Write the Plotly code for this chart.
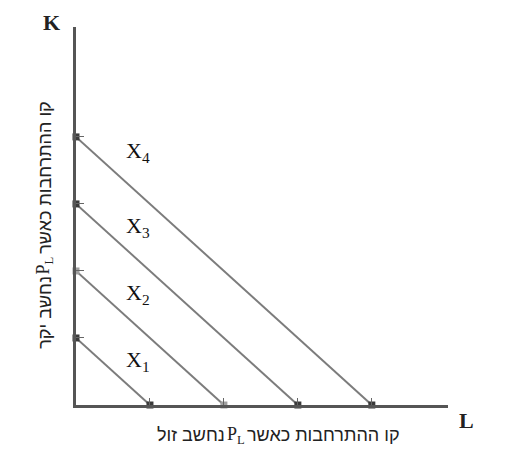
import plotly.graph_objects as go

# Isoquants: intercept on the K axis and on the L axis
line_names = ['X<sub>1</sub>', 'X<sub>2</sub>', 'X<sub>3</sub>', 'X<sub>4</sub>']
k_intercepts = [1, 2, 3, 4]
l_intercepts = [1, 2, 3, 4]
k_end_colors = ['#3a3a3a', '#a0a0a0', '#3a3a3a', '#3a3a3a']
l_end_colors = ['#3a3a3a', '#a0a0a0', '#3a3a3a', '#3a3a3a']

# axis titles, split round P_L so the right-to-left order survives
y_title_start = 'קו ההתרחבות כאשר'
y_title_end = 'נחשב יקר'
x_title_start = 'קו ההתרחבות כאשר'
x_title_end = 'נחשב זול'
price_label = 'P<sub>L</sub>'

hebrew_font = dict(family='Liberation Sans', size=18, color='#222222')
serif_font = dict(family='Liberation Serif', size=18, color='#222222')
label_nudge = [0, 0, 0, 8]  # px, the top label sits a little higher

fig = go.Figure()

for k0, l0 in zip(k_intercepts, l_intercepts):
    fig.add_trace(go.Scatter(
        x=[0, l0], y=[k0, 0],
        mode='lines',
        line=dict(color='#7c7c7c', width=2),
        showlegend=False, hoverinfo='skip',
    ))

# small square end markers sitting on the axes
fig.add_trace(go.Scatter(
    x=[0] * len(k_intercepts), y=k_intercepts, mode='markers',
    marker=dict(symbol='square', size=7, color=k_end_colors),
    showlegend=False, hoverinfo='skip', cliponaxis=False,
))
fig.add_trace(go.Scatter(
    x=l_intercepts, y=[0] * len(l_intercepts), mode='markers',
    marker=dict(symbol='square', size=7, color=l_end_colors),
    showlegend=False, hoverinfo='skip', cliponaxis=False,
))

for name, k0, nudge in zip(line_names, k_intercepts, label_nudge):
    fig.add_annotation(
        x=0.84, y=k0 - 0.35, text=name, yshift=nudge,
        showarrow=False, xanchor='center', yanchor='middle',
        font=dict(family='Liberation Serif', size=22, color='#111111'),
    )

# axis letters
fig.add_annotation(x=-0.065, y=1.0, xref='paper', yref='paper', text='<b>K</b>',
                   showarrow=False, xanchor='center', yanchor='middle', yshift=5,
                   font=dict(family='Liberation Serif', size=22, color='#222222'))
fig.add_annotation(x=1.051, y=-0.042, xref='paper', yref='paper', text='<b>L</b>',
                   showarrow=False, xanchor='center', yanchor='middle',
                   font=dict(family='Liberation Serif', size=22, color='#222222'))

# x-axis title
fig.add_annotation(x=0.43, y=-0.082, xref='paper', yref='paper', text=price_label,
                   showarrow=False, xanchor='center', yanchor='middle', font=serif_font)
fig.add_annotation(x=0.43, y=-0.08, xref='paper', yref='paper', text=x_title_start,
                   showarrow=False, xanchor='left', yanchor='middle', xshift=9,
                   font=hebrew_font)
fig.add_annotation(x=0.43, y=-0.08, xref='paper', yref='paper', text=x_title_end,
                   showarrow=False, xanchor='right', yanchor='middle', xshift=-9,
                   font=hebrew_font)

# y-axis title, rotated
fig.add_annotation(x=-0.085, y=0.37, xref='paper', yref='paper', text=price_label,
                   textangle=-90, showarrow=False, xanchor='center', yanchor='middle',
                   font=serif_font)
fig.add_annotation(x=-0.083, y=0.37, xref='paper', yref='paper', text=y_title_start,
                   textangle=-90, showarrow=False, xanchor='center', yanchor='bottom',
                   yshift=9, font=hebrew_font)
fig.add_annotation(x=-0.083, y=0.37, xref='paper', yref='paper', text=y_title_end,
                   textangle=-90, showarrow=False, xanchor='center', yanchor='top',
                   yshift=-9, font=hebrew_font)

fig.update_xaxes(range=[0, 5.03], showline=True, linecolor='#555555', linewidth=3,
                 showgrid=False, zeroline=False, showticklabels=False,
                 tickvals=l_intercepts, ticks='inside', ticklen=7, tickwidth=1,
                 tickcolor='#666666')
fig.update_yaxes(range=[0, 5.64], showline=True, linecolor='#555555', linewidth=3,
                 showgrid=False, zeroline=False, showticklabels=False,
                 tickvals=k_intercepts, ticks='inside', ticklen=8, tickwidth=1,
                 tickcolor='#666666')

# the page body adds an 8px offset, so the plot box is set 8px up and left
fig.update_layout(
    width=508, height=469,
    margin=dict(l=68, r=68, t=19, b=72, autoexpand=False),
    plot_bgcolor='white', paper_bgcolor='white',
)

fig.write_html("out.html")
